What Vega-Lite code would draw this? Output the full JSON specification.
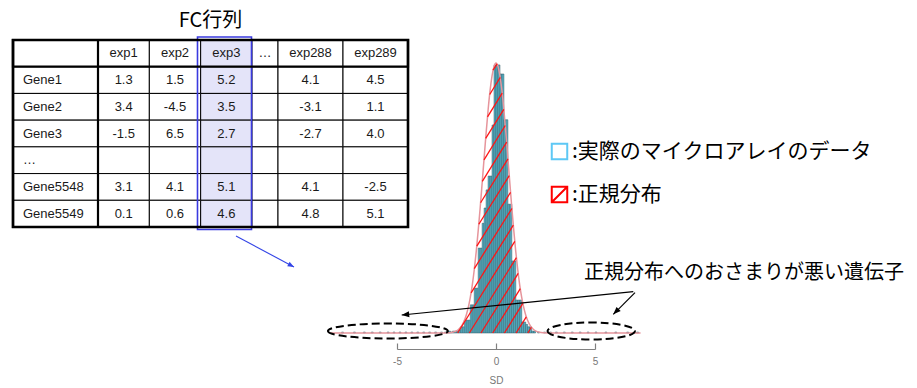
{
  "$schema": "https://vega.github.io/schema/vega-lite/v6.json",
  "width": 917,
  "height": 388,
  "autosize": {"type": "none"},
  "padding": 0,
  "background": "#ffffff",
  "config": {
    "view": {"stroke": null},
    "locale": {"number": {"decimal": ".", "thousands": ",", "grouping": [3], "currency": ["$", ""], "minus": "-"}},
    "axisX": {"offset": -39, "domain": true, "domainWidth": 1.2, "tickWidth": 1.2, "tickSize": -6, "grid": false, "domainColor": "#808080", "tickColor": "#808080", "labelColor": "#777777", "labelFont": "Liberation Sans", "labelFontSize": 10, "labelPadding": 13, "labelFlush": false, "labelOverlap": false, "titleFont": "Liberation Sans", "titleFontSize": 10, "titleFontWeight": "normal", "titleColor": "#777777", "titlePadding": 9}
  },
  "datasets": {
    "cells": [
      {"r": "header", "c": "gene"}, {"r": "header", "c": "exp1"}, {"r": "header", "c": "exp2"}, {"r": "header", "c": "exp3"}, {"r": "header", "c": "…"}, {"r": "header", "c": "exp288"}, {"r": "header", "c": "exp289"},
      {"r": "Gene1", "c": "gene"}, {"r": "Gene1", "c": "exp1", "v": 1.3}, {"r": "Gene1", "c": "exp2", "v": 1.5}, {"r": "Gene1", "c": "exp3", "v": 5.2}, {"r": "Gene1", "c": "…"}, {"r": "Gene1", "c": "exp288", "v": 4.1}, {"r": "Gene1", "c": "exp289", "v": 4.5},
      {"r": "Gene2", "c": "gene"}, {"r": "Gene2", "c": "exp1", "v": 3.4}, {"r": "Gene2", "c": "exp2", "v": -4.5}, {"r": "Gene2", "c": "exp3", "v": 3.5}, {"r": "Gene2", "c": "…"}, {"r": "Gene2", "c": "exp288", "v": -3.1}, {"r": "Gene2", "c": "exp289", "v": 1.1},
      {"r": "Gene3", "c": "gene"}, {"r": "Gene3", "c": "exp1", "v": -1.5}, {"r": "Gene3", "c": "exp2", "v": 6.5}, {"r": "Gene3", "c": "exp3", "v": 2.7}, {"r": "Gene3", "c": "…"}, {"r": "Gene3", "c": "exp288", "v": -2.7}, {"r": "Gene3", "c": "exp289", "v": 4.0},
      {"r": "…", "c": "gene"}, {"r": "…", "c": "exp1"}, {"r": "…", "c": "exp2"}, {"r": "…", "c": "exp3"}, {"r": "…", "c": "…"}, {"r": "…", "c": "exp288"}, {"r": "…", "c": "exp289"},
      {"r": "Gene5548", "c": "gene"}, {"r": "Gene5548", "c": "exp1", "v": 3.1}, {"r": "Gene5548", "c": "exp2", "v": 4.1}, {"r": "Gene5548", "c": "exp3", "v": 5.1}, {"r": "Gene5548", "c": "…"}, {"r": "Gene5548", "c": "exp288", "v": 4.1}, {"r": "Gene5548", "c": "exp289", "v": -2.5},
      {"r": "Gene5549", "c": "gene"}, {"r": "Gene5549", "c": "exp1", "v": 0.1}, {"r": "Gene5549", "c": "exp2", "v": 0.6}, {"r": "Gene5549", "c": "exp3", "v": 4.6}, {"r": "Gene5549", "c": "…"}, {"r": "Gene5549", "c": "exp288", "v": 4.8}, {"r": "Gene5549", "c": "exp289", "v": 5.1}
    ],
    "bins": [
      {"start": -7.8, "end": -7.7, "density": 0.002}, {"start": -7.2, "end": -7.1, "density": 0.002}, {"start": -6.7, "end": -6.6, "density": 0.002}, {"start": -6.3, "end": -6.2, "density": 0.002},
      {"start": -5.9, "end": -5.8, "density": 0.002}, {"start": -5.5, "end": -5.4, "density": 0.002}, {"start": -5.2, "end": -5.1, "density": 0.002}, {"start": -4.9, "end": -4.8, "density": 0.002},
      {"start": -4.6, "end": -4.5, "density": 0.002}, {"start": -4.3, "end": -4.2, "density": 0.002}, {"start": -4.0, "end": -3.9, "density": 0.002}, {"start": -3.7, "end": -3.6, "density": 0.002},
      {"start": -3.4, "end": -3.3, "density": 0.002}, {"start": -3.1, "end": -3.0, "density": 0.002}, {"start": -2.8, "end": -2.7, "density": 0.002}, {"start": -2.6, "end": -2.5, "density": 0.002},
      {"start": -2.5, "end": -2.4, "density": 0.002}, {"start": -2.4, "end": -2.3, "density": 0.004}, {"start": -2.3, "end": -2.2, "density": 0.002}, {"start": -2.2, "end": -2.1, "density": 0.004},
      {"start": -2.1, "end": -2.0, "density": 0.004}, {"start": -2.0, "end": -1.9, "density": 0.004}, {"start": -1.9, "end": -1.8, "density": 0.006}, {"start": -1.8, "end": -1.7, "density": 0.013},
      {"start": -1.7, "end": -1.6, "density": 0.013}, {"start": -1.6, "end": -1.5, "density": 0.027}, {"start": -1.5, "end": -1.4, "density": 0.027}, {"start": -1.4, "end": -1.3, "density": 0.027},
      {"start": -1.3, "end": -1.2, "density": 0.059}, {"start": -1.2, "end": -1.1, "density": 0.059}, {"start": -1.1, "end": -1.0, "density": 0.094}, {"start": -1.0, "end": -0.9, "density": 0.094},
      {"start": -0.9, "end": -0.8, "density": 0.178}, {"start": -0.8, "end": -0.7, "density": 0.178}, {"start": -0.7, "end": -0.6, "density": 0.230}, {"start": -0.6, "end": -0.5, "density": 0.262},
      {"start": -0.5, "end": -0.4, "density": 0.300}, {"start": -0.4, "end": -0.3, "density": 0.329}, {"start": -0.3, "end": -0.2, "density": 0.329}, {"start": -0.2, "end": -0.1, "density": 0.436},
      {"start": -0.1, "end": 0.0, "density": 0.562}, {"start": 0.0, "end": 0.1, "density": 0.562}, {"start": 0.1, "end": 0.2, "density": 0.562}, {"start": 0.2, "end": 0.3, "density": 0.543},
      {"start": 0.3, "end": 0.4, "density": 0.543}, {"start": 0.4, "end": 0.5, "density": 0.447}, {"start": 0.5, "end": 0.6, "density": 0.447}, {"start": 0.6, "end": 0.7, "density": 0.270},
      {"start": 0.7, "end": 0.8, "density": 0.270}, {"start": 0.8, "end": 0.9, "density": 0.151}, {"start": 0.9, "end": 1.0, "density": 0.151}, {"start": 1.0, "end": 1.1, "density": 0.069},
      {"start": 1.1, "end": 1.2, "density": 0.069}, {"start": 1.2, "end": 1.3, "density": 0.069}, {"start": 1.3, "end": 1.4, "density": 0.023}, {"start": 1.4, "end": 1.5, "density": 0.023},
      {"start": 1.5, "end": 1.6, "density": 0.018}, {"start": 1.6, "end": 1.7, "density": 0.013}, {"start": 1.7, "end": 1.8, "density": 0.013}, {"start": 1.8, "end": 1.9, "density": 0.004},
      {"start": 1.9, "end": 2.0, "density": 0.004}, {"start": 2.1, "end": 2.2, "density": 0.002}, {"start": 2.4, "end": 2.5, "density": 0.002}, {"start": 2.7, "end": 2.8, "density": 0.002},
      {"start": 3.0, "end": 3.1, "density": 0.002}, {"start": 3.4, "end": 3.5, "density": 0.002}, {"start": 3.8, "end": 3.9, "density": 0.002}, {"start": 4.2, "end": 4.3, "density": 0.002},
      {"start": 4.6, "end": 4.7, "density": 0.002}, {"start": 5.0, "end": 5.1, "density": 0.002}, {"start": 5.5, "end": 5.6, "density": 0.002}, {"start": 6.0, "end": 6.1, "density": 0.002},
      {"start": 6.6, "end": 6.7, "density": 0.002}, {"start": 7.1, "end": 7.2, "density": 0.002}
    ],
    "curve": [
      {"sd": -8.4, "density": 0}, {"sd": -4.0, "density": 0}, {"sd": -3.0, "density": 0.00002}, {"sd": -2.6, "density": 0.0002}, {"sd": -2.4, "density": 0.0006},
      {"sd": -2.2, "density": 0.0017}, {"sd": -2.0, "density": 0.0046}, {"sd": -1.9, "density": 0.0074}, {"sd": -1.8, "density": 0.0115}, {"sd": -1.7, "density": 0.0175},
      {"sd": -1.6, "density": 0.0261}, {"sd": -1.5, "density": 0.0379}, {"sd": -1.4, "density": 0.0537}, {"sd": -1.3, "density": 0.0743}, {"sd": -1.2, "density": 0.100},
      {"sd": -1.1, "density": 0.132}, {"sd": -1.0, "density": 0.170}, {"sd": -0.9, "density": 0.214}, {"sd": -0.8, "density": 0.262}, {"sd": -0.7, "density": 0.314},
      {"sd": -0.6, "density": 0.367}, {"sd": -0.5, "density": 0.419}, {"sd": -0.4, "density": 0.467}, {"sd": -0.3, "density": 0.508}, {"sd": -0.2, "density": 0.539},
      {"sd": -0.1, "density": 0.559}, {"sd": 0.0, "density": 0.566}, {"sd": 0.1, "density": 0.559}, {"sd": 0.2, "density": 0.539}, {"sd": 0.3, "density": 0.508},
      {"sd": 0.4, "density": 0.467}, {"sd": 0.5, "density": 0.419}, {"sd": 0.6, "density": 0.367}, {"sd": 0.7, "density": 0.314}, {"sd": 0.8, "density": 0.262},
      {"sd": 0.9, "density": 0.214}, {"sd": 1.0, "density": 0.170}, {"sd": 1.1, "density": 0.132}, {"sd": 1.2, "density": 0.100}, {"sd": 1.3, "density": 0.0743},
      {"sd": 1.4, "density": 0.0537}, {"sd": 1.5, "density": 0.0379}, {"sd": 1.6, "density": 0.0261}, {"sd": 1.7, "density": 0.0175}, {"sd": 1.8, "density": 0.0115},
      {"sd": 1.9, "density": 0.0074}, {"sd": 2.0, "density": 0.0046}, {"sd": 2.2, "density": 0.0017}, {"sd": 2.4, "density": 0.0006}, {"sd": 2.6, "density": 0.0002},
      {"sd": 3.0, "density": 0.00002}, {"sd": 4.0, "density": 0}, {"sd": 7.3, "density": 0}
    ],
    "hatch": [
      {"x1": -0.152, "y1": 0.551, "x2": 0.056, "y2": 0.564},
      {"x1": -0.318, "y1": 0.500, "x2": 0.217, "y2": 0.536},
      {"x1": -0.429, "y1": 0.453, "x2": 0.313, "y2": 0.503},
      {"x1": -0.520, "y1": 0.408, "x2": 0.394, "y2": 0.469},
      {"x1": -0.606, "y1": 0.363, "x2": 0.467, "y2": 0.435},
      {"x1": -0.692, "y1": 0.318, "x2": 0.540, "y2": 0.400},
      {"x1": -0.778, "y1": 0.273, "x2": 0.606, "y2": 0.365},
      {"x1": -0.869, "y1": 0.228, "x2": 0.669, "y2": 0.330},
      {"x1": -0.970, "y1": 0.182, "x2": 0.735, "y2": 0.295},
      {"x1": -1.096, "y1": 0.135, "x2": 0.803, "y2": 0.261},
      {"x1": -1.258, "y1": 0.084, "x2": 0.874, "y2": 0.226},
      {"x1": -1.939, "y1": 0.0, "x2": 0.949, "y2": 0.192},
      {"x1": -1.348, "y1": 0.0, "x2": 1.030, "y2": 0.158},
      {"x1": -0.758, "y1": 0.0, "x2": 1.121, "y2": 0.125},
      {"x1": -0.167, "y1": 0.0, "x2": 1.227, "y2": 0.093},
      {"x1": 0.424, "y1": 0.0, "x2": 1.354, "y2": 0.062},
      {"x1": 1.015, "y1": 0.0, "x2": 1.530, "y2": 0.034},
      {"x1": 1.606, "y1": 0.0, "x2": 1.788, "y2": 0.012}
    ],
    "arrows": [
      {"id": "left", "x1": 6.934, "y1": 0.0866, "x2": -4.763, "y2": 0.0377},
      {"id": "right", "x1": 7.020, "y1": 0.0845, "x2": 5.924, "y2": 0.0392},
      {"id": "table", "x1": -13.131, "y1": 0.2034, "x2": -10.202, "y2": 0.1384}
    ]
  },
  "resolve": {"scale": {"x": "independent", "y": "independent"}},
  "layer": [
    {
      "data": {"name": "cells"},
      "transform": [{"filter": "datum.c === 'gene'"}],
      "encoding": {
        "x": {"field": "c", "type": "nominal", "axis": null, "scale": {"type": "band", "domain": ["gene"], "range": [13, 98], "paddingInner": 0, "paddingOuter": 0}},
        "y": {"field": "r", "type": "nominal", "axis": null, "scale": {"type": "band", "domain": ["header", "Gene1", "Gene2", "Gene3", "…", "Gene5548", "Gene5549"], "range": [40, 227], "paddingInner": 0, "paddingOuter": 0}}
      },
      "layer": [
        {"mark": {"type": "rect", "fill": "#ffffff", "stroke": "#000000", "strokeWidth": 1}},
        {"transform": [{"filter": "datum.r !== 'header'"}], "mark": {"type": "text", "align": "left", "baseline": "middle", "dx": -32.5, "font": "Liberation Sans", "fontSize": 13, "fill": "#1a1a1a"}, "encoding": {"text": {"field": "r", "type": "nominal"}}}
      ]
    },
    {
      "data": {"name": "cells"},
      "transform": [{"filter": "indexof(['exp1','exp2','exp3'], datum.c) >= 0"}],
      "encoding": {
        "x": {"field": "c", "type": "nominal", "axis": null, "scale": {"type": "band", "domain": ["exp1", "exp2", "exp3"], "range": [98, 252], "paddingInner": 0, "paddingOuter": 0}},
        "y": {"field": "r", "type": "nominal", "axis": null, "scale": {"type": "band", "domain": ["header", "Gene1", "Gene2", "Gene3", "…", "Gene5548", "Gene5549"], "range": [40, 227], "paddingInner": 0, "paddingOuter": 0}}
      },
      "layer": [
        {"mark": {"type": "rect", "stroke": "#000000", "strokeWidth": 1}, "encoding": {"fill": {"condition": {"test": "datum.c === 'exp3'", "value": "#e4e4f9"}, "value": "#ffffff"}}},
        {"transform": [{"filter": "datum.r === 'header'"}], "mark": {"type": "text", "align": "center", "baseline": "middle", "font": "Liberation Sans", "fontSize": 13, "fill": "#1a1a1a"}, "encoding": {"text": {"field": "c", "type": "nominal"}}},
        {"transform": [{"filter": "isValid(datum.v)"}], "mark": {"type": "text", "align": "center", "baseline": "middle", "font": "Liberation Sans", "fontSize": 13, "fill": "#1a1a1a"}, "encoding": {"text": {"field": "v", "type": "quantitative", "format": ".1f"}}}
      ]
    },
    {
      "data": {"name": "cells"},
      "transform": [{"filter": "datum.c === '…'"}],
      "encoding": {
        "x": {"field": "c", "type": "nominal", "axis": null, "scale": {"type": "band", "domain": ["…"], "range": [252, 278], "paddingInner": 0, "paddingOuter": 0}},
        "y": {"field": "r", "type": "nominal", "axis": null, "scale": {"type": "band", "domain": ["header", "Gene1", "Gene2", "Gene3", "…", "Gene5548", "Gene5549"], "range": [40, 227], "paddingInner": 0, "paddingOuter": 0}}
      },
      "layer": [
        {"mark": {"type": "rect", "fill": "#ffffff", "stroke": "#000000", "strokeWidth": 1}},
        {"transform": [{"filter": "datum.r === 'header'"}], "mark": {"type": "text", "align": "center", "baseline": "middle", "font": "Liberation Sans", "fontSize": 13, "fill": "#1a1a1a"}, "encoding": {"text": {"field": "c", "type": "nominal"}}}
      ]
    },
    {
      "data": {"name": "cells"},
      "transform": [{"filter": "indexof(['exp288','exp289'], datum.c) >= 0"}],
      "encoding": {
        "x": {"field": "c", "type": "nominal", "axis": null, "scale": {"type": "band", "domain": ["exp288", "exp289"], "range": [278, 408], "paddingInner": 0, "paddingOuter": 0}},
        "y": {"field": "r", "type": "nominal", "axis": null, "scale": {"type": "band", "domain": ["header", "Gene1", "Gene2", "Gene3", "…", "Gene5548", "Gene5549"], "range": [40, 227], "paddingInner": 0, "paddingOuter": 0}}
      },
      "layer": [
        {"mark": {"type": "rect", "fill": "#ffffff", "stroke": "#000000", "strokeWidth": 1}},
        {"transform": [{"filter": "datum.r === 'header'"}], "mark": {"type": "text", "align": "center", "baseline": "middle", "font": "Liberation Sans", "fontSize": 13, "fill": "#1a1a1a"}, "encoding": {"text": {"field": "c", "type": "nominal"}}},
        {"transform": [{"filter": "isValid(datum.v)"}], "mark": {"type": "text", "align": "center", "baseline": "middle", "font": "Liberation Sans", "fontSize": 13, "fill": "#1a1a1a"}, "encoding": {"text": {"field": "v", "type": "quantitative", "format": ".1f"}}}
      ]
    },
    {
      "data": {"values": [{"col": "exp3"}]},
      "mark": {"type": "rect", "fill": "transparent", "stroke": "#3a3ae0", "strokeWidth": 1.6},
      "encoding": {
        "x": {"field": "col", "type": "nominal", "axis": null, "scale": {"type": "band", "domain": ["exp3"], "range": [197.5, 251.5], "paddingInner": 0, "paddingOuter": 0}},
        "y": {"field": "col", "type": "nominal", "axis": null, "scale": {"type": "band", "domain": ["exp3"], "range": [37, 229.5], "paddingInner": 0, "paddingOuter": 0}}
      }
    },
    {
      "data": {"values": [{"part": "table"}]},
      "layer": [
        {
          "mark": {"type": "rect", "fill": "transparent", "stroke": "#000000", "strokeWidth": 2.6},
          "encoding": {
            "x": {"field": "part", "type": "nominal", "axis": null, "scale": {"type": "band", "domain": ["table"], "range": [13, 408], "paddingInner": 0, "paddingOuter": 0}},
            "y": {"field": "part", "type": "nominal", "axis": null, "scale": {"type": "band", "domain": ["table"], "range": [40, 227], "paddingInner": 0, "paddingOuter": 0}}
          }
        },
        {
          "mark": {"type": "text", "text": "FC行列", "align": "center", "baseline": "alphabetic", "dy": -13, "font": "Noto Sans CJK JP", "fontSize": 20, "fill": "#000000"},
          "encoding": {
            "x": {"field": "part", "type": "nominal", "axis": null, "scale": {"type": "band", "domain": ["table"], "range": [13, 408], "paddingInner": 0, "paddingOuter": 0}},
            "y": {"field": "part", "type": "nominal", "axis": null, "bandPosition": 0, "scale": {"type": "band", "domain": ["table"], "range": [40, 227], "paddingInner": 0, "paddingOuter": 0}}
          }
        }
      ]
    },
    {
      "data": {"values": [{"part": "name"}]},
      "mark": {"type": "rect", "fill": "transparent", "stroke": "#000000", "strokeWidth": 2.2},
      "encoding": {
        "x": {"field": "part", "type": "nominal", "axis": null, "scale": {"type": "band", "domain": ["name"], "range": [13, 98], "paddingInner": 0, "paddingOuter": 0}},
        "y": {"field": "part", "type": "nominal", "axis": null, "scale": {"type": "band", "domain": ["name"], "range": [40, 227], "paddingInner": 0, "paddingOuter": 0}}
      }
    },
    {
      "data": {"values": [{"part": "header"}]},
      "mark": {"type": "rect", "fill": "transparent", "stroke": "#000000", "strokeWidth": 2.2},
      "encoding": {
        "x": {"field": "part", "type": "nominal", "axis": null, "scale": {"type": "band", "domain": ["header"], "range": [13, 408], "paddingInner": 0, "paddingOuter": 0}},
        "y": {"field": "part", "type": "nominal", "axis": null, "scale": {"type": "band", "domain": ["header"], "range": [40, 66.7], "paddingInner": 0, "paddingOuter": 0}}
      }
    },
    {
      "layer": [
        {
          "data": {"name": "bins"},
          "mark": {"type": "rect", "fill": "#57b3c7", "stroke": "#2e5864", "strokeWidth": 0.5},
          "encoding": {
            "x": {"field": "start", "type": "quantitative", "scale": {"domain": [-5, 5], "range": [397, 595], "nice": false, "zero": false}, "axis": {"values": [-5, 0, 5], "title": "SD", "domain": true}},
            "x2": {"field": "end"},
            "y": {"field": "density", "type": "quantitative", "axis": null, "scale": {"domain": [0, 0.6], "range": [333, 46.8], "nice": false, "zero": false}},
            "y2": {"datum": 0}
          }
        },
        {
          "data": {"name": "curve"},
          "mark": {"type": "line", "stroke": "#e6959c", "strokeWidth": 1.5, "interpolate": "monotone"},
          "encoding": {
            "x": {"field": "sd", "type": "quantitative", "axis": {"values": [-5, 0, 5], "title": "SD", "domain": true}, "scale": {"domain": [-5, 5], "range": [397, 595], "nice": false, "zero": false}},
            "y": {"field": "density", "type": "quantitative", "axis": null, "scale": {"domain": [0, 0.6], "range": [333, 46.8], "nice": false, "zero": false}}
          }
        },
        {
          "data": {"name": "hatch"},
          "mark": {"type": "rule", "stroke": "#ff1414", "strokeWidth": 1.3},
          "encoding": {
            "x": {"field": "x1", "type": "quantitative", "axis": {"values": [-5, 0, 5], "title": "SD", "domain": true}, "scale": {"domain": [-5, 5], "range": [397, 595], "nice": false, "zero": false}},
            "y": {"field": "y1", "type": "quantitative", "axis": null, "scale": {"domain": [0, 0.6], "range": [333, 46.8], "nice": false, "zero": false}},
            "x2": {"field": "x2"},
            "y2": {"field": "y2"}
          }
        },
        {
          "data": {"values": [{"sd": -5.46, "density": 0.0042}]},
          "mark": {"type": "point", "shape": "M-1,0A1,0.125,0,1,0,1,0A1,0.125,0,1,0,-1,0Z", "size": 14400, "filled": false, "stroke": "#000000", "strokeWidth": 2, "strokeDash": [8, 4], "opacity": 1},
          "encoding": {
            "x": {"field": "sd", "type": "quantitative", "axis": {"values": [-5, 0, 5], "title": "SD", "domain": true}, "scale": {"domain": [-5, 5], "range": [397, 595], "nice": false, "zero": false}},
            "y": {"field": "density", "type": "quantitative", "axis": null, "scale": {"domain": [0, 0.6], "range": [333, 46.8], "nice": false, "zero": false}}
          }
        },
        {
          "data": {"values": [{"sd": 4.81, "density": 0.0042}]},
          "mark": {"type": "point", "shape": "M-1,0A1,0.195,0,1,0,1,0A1,0.195,0,1,0,-1,0Z", "size": 7639, "filled": false, "stroke": "#000000", "strokeWidth": 2, "strokeDash": [8, 4], "opacity": 1},
          "encoding": {
            "x": {"field": "sd", "type": "quantitative", "axis": {"values": [-5, 0, 5], "title": "SD", "domain": true}, "scale": {"domain": [-5, 5], "range": [397, 595], "nice": false, "zero": false}},
            "y": {"field": "density", "type": "quantitative", "axis": null, "scale": {"domain": [0, 0.6], "range": [333, 46.8], "nice": false, "zero": false}}
          }
        },
        {
          "data": {"name": "arrows"},
          "transform": [{"filter": "datum.id !== 'table'"}],
          "mark": {"type": "rule", "stroke": "#000000", "strokeWidth": 1.2},
          "encoding": {
            "x": {"field": "x1", "type": "quantitative", "axis": {"values": [-5, 0, 5], "title": "SD", "domain": true}, "scale": {"domain": [-5, 5], "range": [397, 595], "nice": false, "zero": false}},
            "y": {"field": "y1", "type": "quantitative", "axis": null, "scale": {"domain": [0, 0.6], "range": [333, 46.8], "nice": false, "zero": false}},
            "x2": {"field": "x2"},
            "y2": {"field": "y2"}
          }
        },
        {
          "data": {"name": "arrows"},
          "transform": [{"filter": "datum.id === 'table'"}],
          "mark": {"type": "rule", "stroke": "#3344e6", "strokeWidth": 1.1},
          "encoding": {
            "x": {"field": "x1", "type": "quantitative", "axis": {"values": [-5, 0, 5], "title": "SD", "domain": true}, "scale": {"domain": [-5, 5], "range": [397, 595], "nice": false, "zero": false}},
            "y": {"field": "y1", "type": "quantitative", "axis": null, "scale": {"domain": [0, 0.6], "range": [333, 46.8], "nice": false, "zero": false}},
            "x2": {"field": "x2"},
            "y2": {"field": "y2"}
          }
        },
        {
          "data": {"name": "arrows"},
          "transform": [{"filter": "datum.id === 'left'"}],
          "mark": {"type": "point", "shape": "M0,0L0.4,1L-0.4,1Z", "size": 225, "filled": true, "fill": "#000000", "strokeWidth": 0, "opacity": 1, "angle": 264.3},
          "encoding": {
            "x": {"field": "x2", "type": "quantitative", "axis": {"values": [-5, 0, 5], "title": "SD", "domain": true}, "scale": {"domain": [-5, 5], "range": [397, 595], "nice": false, "zero": false}},
            "y": {"field": "y2", "type": "quantitative", "axis": null, "scale": {"domain": [0, 0.6], "range": [333, 46.8], "nice": false, "zero": false}}
          }
        },
        {
          "data": {"name": "arrows"},
          "transform": [{"filter": "datum.id === 'right'"}],
          "mark": {"type": "point", "shape": "M0,0L0.4,1L-0.4,1Z", "size": 225, "filled": true, "fill": "#000000", "strokeWidth": 0, "opacity": 1, "angle": 225},
          "encoding": {
            "x": {"field": "x2", "type": "quantitative", "axis": {"values": [-5, 0, 5], "title": "SD", "domain": true}, "scale": {"domain": [-5, 5], "range": [397, 595], "nice": false, "zero": false}},
            "y": {"field": "y2", "type": "quantitative", "axis": null, "scale": {"domain": [0, 0.6], "range": [333, 46.8], "nice": false, "zero": false}}
          }
        },
        {
          "data": {"name": "arrows"},
          "transform": [{"filter": "datum.id === 'table'"}],
          "mark": {"type": "point", "shape": "M0,0L0.4,1L-0.4,1Z", "size": 160, "filled": true, "fill": "#3344e6", "strokeWidth": 0, "opacity": 1, "angle": 118.1},
          "encoding": {
            "x": {"field": "x2", "type": "quantitative", "axis": {"values": [-5, 0, 5], "title": "SD", "domain": true}, "scale": {"domain": [-5, 5], "range": [397, 595], "nice": false, "zero": false}},
            "y": {"field": "y2", "type": "quantitative", "axis": null, "scale": {"domain": [0, 0.6], "range": [333, 46.8], "nice": false, "zero": false}}
          }
        },
        {
          "data": {"values": [{"label": "正規分布へのおさまりが悪い遺伝子", "sd": 12.525, "density": 0.1258}]},
          "mark": {"type": "text", "align": "center", "baseline": "middle", "font": "Noto Sans CJK JP", "fontSize": 20, "fill": "#000000"},
          "encoding": {
            "x": {"field": "sd", "type": "quantitative", "axis": {"values": [-5, 0, 5], "title": "SD", "domain": true}, "scale": {"domain": [-5, 5], "range": [397, 595], "nice": false, "zero": false}},
            "y": {"field": "density", "type": "quantitative", "axis": null, "scale": {"domain": [0, 0.6], "range": [333, 46.8], "nice": false, "zero": false}},
            "text": {"field": "label", "type": "nominal"}
          }
        }
      ]
    },
    {
      "data": {"values": [{"series": ":実際のマイクロアレイのデータ"}, {"series": "\u00a0\u00a0:正規分布"}]},
      "transform": [{"filter": "false"}],
      "mark": {"type": "point", "filled": false},
      "encoding": {
        "stroke": {"field": "series", "type": "nominal",
          "scale": {"domain": [":実際のマイクロアレイのデータ", "\u00a0\u00a0:正規分布"], "range": ["#5ec8f5", "#ff0000"]},
          "legend": {"title": null, "orient": "none", "legendX": 549, "legendY": 141, "padding": 0, "symbolSize": 240, "symbolStrokeWidth": 2, "symbolOpacity": 1, "labelFont": "Noto Sans CJK JP", "labelFontSize": 21, "labelColor": "#000000", "labelLimit": 0, "labelOffset": 2, "rowPadding": 18}},
        "shape": {"field": "series", "type": "nominal",
          "scale": {"domain": [":実際のマイクロアレイのデータ", "\u00a0\u00a0:正規分布"], "range": ["M-1,-1H1V1H-1Z", "M-1,-1H1V1H-1ZM-1,1L1,-1"]},
          "legend": {"title": null, "orient": "none", "legendX": 549, "legendY": 141, "padding": 0, "symbolSize": 240, "symbolStrokeWidth": 2, "symbolOpacity": 1, "labelFont": "Noto Sans CJK JP", "labelFontSize": 21, "labelColor": "#000000", "labelLimit": 0, "labelOffset": 2, "rowPadding": 18}}
      }
    }
  ]
}
